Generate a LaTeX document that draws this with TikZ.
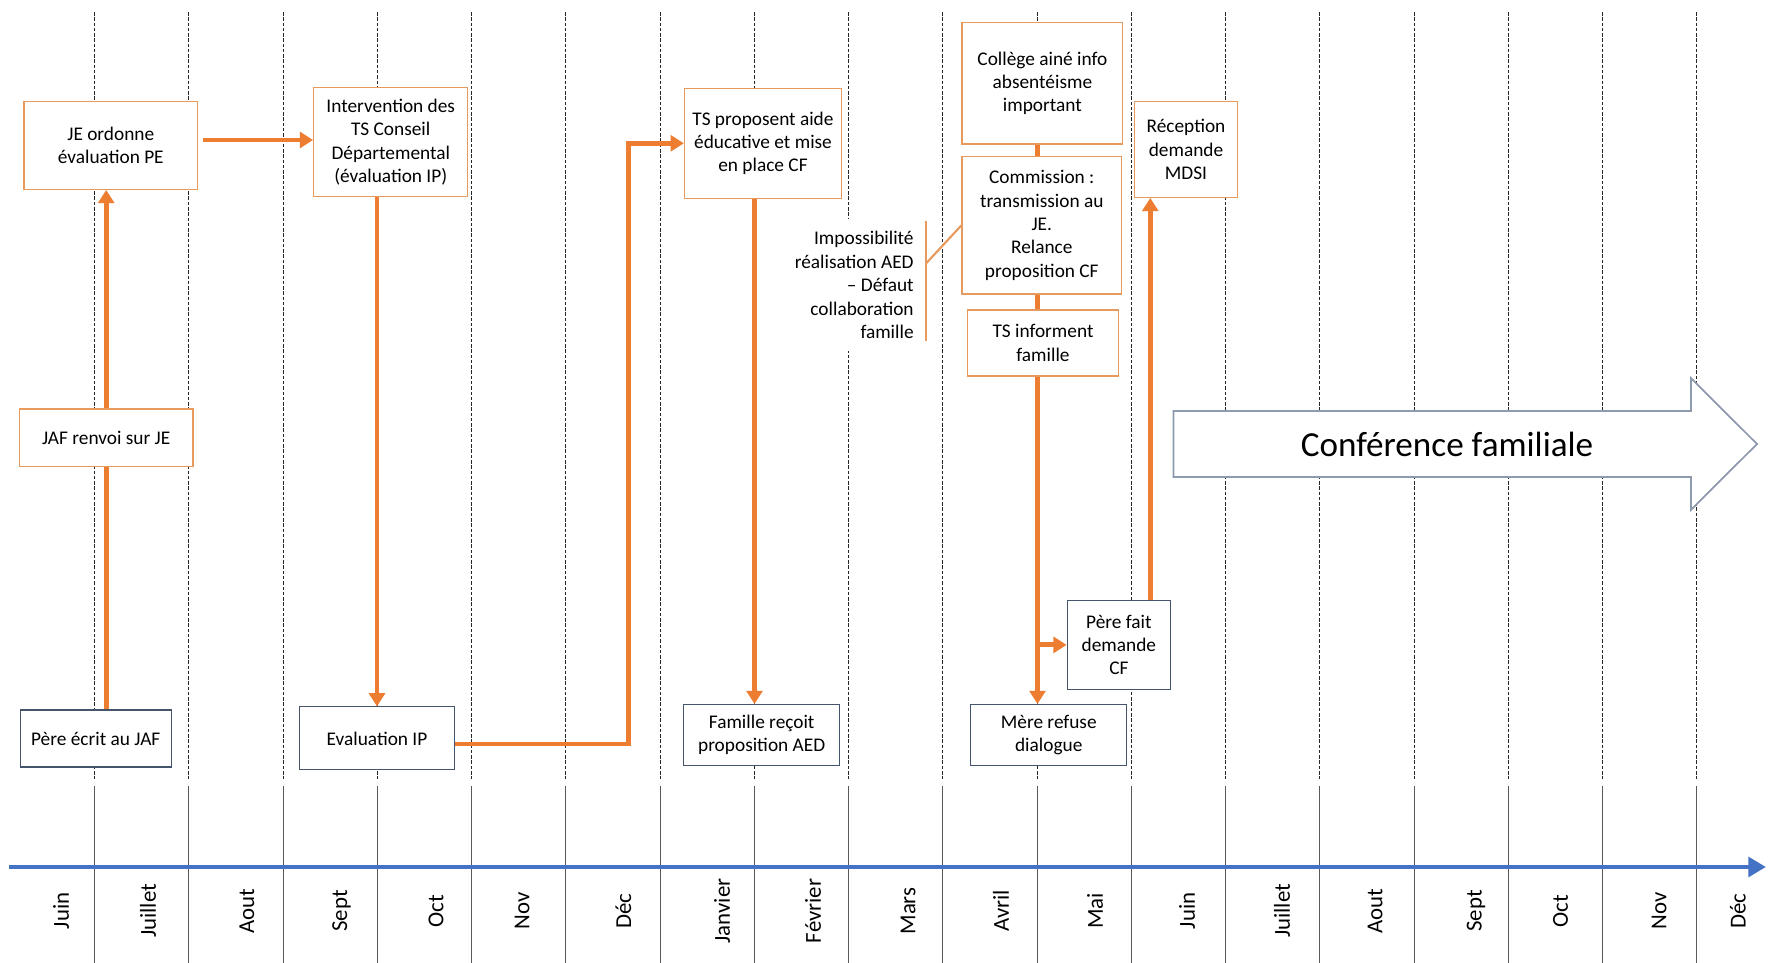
\documentclass[tikz,border=0pt]{standalone}
\usepackage{fontspec}
\setmainfont{Carlito}
\usepackage{tikz}
\usepackage{xcolor}
\usetikzlibrary{calc, arrows.meta}

\definecolor{orgline}{HTML}{ED7D31}
\definecolor{orgbox}{HTML}{E69A5E}
\definecolor{slate}{HTML}{44546A}
\definecolor{axisblue}{HTML}{4472C4}
\definecolor{cfgrey}{HTML}{8E9BAE}

\begin{document}
\begin{tikzpicture}[x=0.02cm, y=-0.02cm,
    obox/.style={draw=orgbox, line width=0.8pt, fill=white, align=center, inner sep=2pt, font=\fontsize{11}{13.3}\selectfont},
    bbox/.style={draw=slate, line width=0.6pt, fill=white, align=center, inner sep=2pt, font=\fontsize{11}{13.3}\selectfont},
    arr/.style={draw=orgline, line width=2.8pt, -{Triangle[length=7.5pt,width=9pt]}},
    lnk/.style={draw=orgline, line width=2.8pt},
    brk/.style={draw=orgbox, line width=1.2pt},
    grid/.style={line width=0.55pt, dash pattern=on 2pt off 1pt, black!85},
    tick/.style={line width=0.6pt, black!65},
    month/.style={rotate=90, font=\fontsize{13}{15}\selectfont}]
      \useasboundingbox (0,0) rectangle (1769,963);
      \fill[white] (0,0) rectangle (1769,963);
      % month grid
      \draw[grid] (94.5,12)--(94.5,779);     \draw[tick] (94.5,786)--(94.5,963);
      \draw[grid] (188.5,12)--(188.5,779);   \draw[tick] (188.5,786)--(188.5,963);
      \draw[grid] (283.5,12)--(283.5,779);   \draw[tick] (283.5,786)--(283.5,963);
      \draw[grid] (377.5,12)--(377.5,779);   \draw[tick] (377.5,786)--(377.5,963);
      \draw[grid] (471.5,12)--(471.5,779);   \draw[tick] (471.5,786)--(471.5,963);
      \draw[grid] (565.5,12)--(565.5,779);   \draw[tick] (565.5,786)--(565.5,963);
      \draw[grid] (660.5,12)--(660.5,779);   \draw[tick] (660.5,786)--(660.5,963);
      \draw[grid] (754.5,12)--(754.5,779);   \draw[tick] (754.5,786)--(754.5,963);
      \draw[grid] (848.5,12)--(848.5,779);   \draw[tick] (848.5,786)--(848.5,963);
      \draw[grid] (942.5,12)--(942.5,779);   \draw[tick] (942.5,786)--(942.5,963);
      \draw[grid] (1037.5,12)--(1037.5,779); \draw[tick] (1037.5,786)--(1037.5,963);
      \draw[grid] (1131.5,12)--(1131.5,779); \draw[tick] (1131.5,786)--(1131.5,963);
      \draw[grid] (1225.5,12)--(1225.5,779); \draw[tick] (1225.5,786)--(1225.5,963);
      \draw[grid] (1319.5,12)--(1319.5,779); \draw[tick] (1319.5,786)--(1319.5,963);
      \draw[grid] (1414.5,12)--(1414.5,779); \draw[tick] (1414.5,786)--(1414.5,963);
      \draw[grid] (1508.5,12)--(1508.5,779); \draw[tick] (1508.5,786)--(1508.5,963);
      \draw[grid] (1602.5,12)--(1602.5,779); \draw[tick] (1602.5,786)--(1602.5,963);
      \draw[grid] (1696.5,12)--(1696.5,779); \draw[tick] (1696.5,786)--(1696.5,963);
      \coordinate (g8) at (754.5,0);
      \coordinate (g11) at (1037.5,0);

      % time axis
      \coordinate (t0) at (9,867);
      \coordinate (t1) at (1766,867);
      \draw[axisblue, line width=2.6pt, -{Triangle[length=10pt,width=11pt]}] (t0)--(t1);
      \node[month] (m1) at (61,911) {Juin};
      \node[month] (m2) at (148,911) {Juillet};
      \node[month] (m3) at (247,911) {Aout};
      \node[month] (m4) at (341.5,911) {Sept};
      \node[month] (m5) at (436,911) {Oct};
      \node[month] (m6) at (522,911) {Nov};
      \node[month] (m7) at (623.5,911) {Déc};
      \node[month] (m8) at (722,911) {Janvier};
      \node[month] (m9) at (813,911) {Février};
      \node[month] (m10) at (908,911) {Mars};
      \node[month] (m11) at (1001,911) {Avril};
      \node[month] (m12) at (1095,911) {Mai};
      \node[month] (m13) at (1187,911) {Juin};
      \node[month] (m14) at (1282,911) {Juillet};
      \node[month] (m15) at (1375,911) {Aout};
      \node[month] (m16) at (1476,911) {Sept};
      \node[month] (m17) at (1560.6,911) {Oct};
      \node[month] (m18) at (1659,911) {Nov};
      \node[month] (m19) at (1738,911) {Déc};

      % conference block arrow
      \draw[draw=cfgrey, line width=1pt, fill=white] (1173.4,411)--(1690.9,411)--(1690.9,378)--(1757,444)
        --(1690.9,510)--(1690.9,477)--(1173.4,477)--cycle;
      \node[font=\fontsize{20}{24}\selectfont] (conf) at (1447,444) {Conférence familiale};

      % events
      \node[obox, minimum width=3.48cm, minimum height=1.75cm] (je) at (110.8,145.5) {JE ordonne\\évaluation PE};
      \node[obox, minimum width=3.08cm, minimum height=2.19cm] (inter) at (390.75,142) {Intervention des\\TS Conseil\\Départemental\\(évaluation IP)};
      \node[obox, minimum width=3.14cm, minimum height=2.2cm] (tsprop) at (763,143.3) {TS proposent aide\\éducative et mise\\en place CF};
      \node[obox, minimum width=3.21cm, minimum height=2.43cm] (college) at (1042.4,83.3) {Collège ainé info\\absentéisme\\important};
      \node[obox, minimum width=3.19cm, minimum height=2.75cm] (commission) at (1041.8,225.4) {Commission :\\transmission au\\JE.\\Relance\\proposition CF};
      \node[obox, minimum width=3.03cm, minimum height=1.32cm] (tsinfo) at (1043,343) {TS informent\\famille};
      \node[obox, minimum width=2.07cm, minimum height=1.91cm] (reception) at (1186,149.5) {Réception\\demande\\MDSI};
      \node[obox, minimum width=3.48cm, minimum height=1.15cm] (jaf) at (106.2,437.7) {JAF renvoi sur JE};
      \node[bbox, minimum width=3.02cm, minimum height=1.14cm] (pere) at (95.7,738.5) {Père écrit au JAF};
      \node[bbox, minimum width=3.11cm, minimum height=1.26cm] (eval) at (377,738.4) {Evaluation IP};
      \node[bbox, minimum width=3.12cm, minimum height=1.22cm] (famille) at (761.7,735) {Famille reçoit\\proposition AED};
      \node[bbox, minimum width=3.12cm, minimum height=1.22cm] (mere) at (1048.75,735) {Mère refuse\\dialogue};
      \node[bbox, minimum width=2.07cm, minimum height=1.78cm] (perefait) at (1118.9,644.9) {Père fait\\demande\\CF};
      \node[fill=white, align=right, inner sep=0.24cm, anchor=east, font=\fontsize{11}{13.3}\selectfont] (note) at (926,285)
        {Impossibilité\\réalisation AED\\– Défaut\\collaboration\\famille};

      % bracket of the note
      \draw[brk] ([yshift=1.29cm]note.east)--([yshift=-1.13cm]note.east);
      \draw[brk] ([yshift=0.43cm]note.east)--(commission.west);

      % flow
      \draw[lnk] (pere.north -| jaf.south)--(jaf.south);
      \draw[arr] (jaf.north)--(je.south -| jaf.north);
      \draw[arr, shorten <=0.1cm] ($(je.east)+(0,-5.5)$)--($(je.east -| inter.west)+(0,-5.5)$);
      \draw[arr] (inter.south -| eval.north)--(eval.north);
      \draw[arr] ($(eval.east)+(0,5.6)$)--++(173,0) |- (tsprop.west);
      \draw[arr] (tsprop.south -| g8)--(famille.north -| g8);
      \draw[lnk] (college.south -| g11)--(commission.north -| g11);
      \draw[lnk] (commission.south -| g11)--(tsinfo.north -| g11);
      \draw[arr] (tsinfo.south -| g11)--(mere.north -| g11);
      \draw[arr] (perefait.west -| g11)--(perefait.west);
      \draw[arr] ($(perefait.north west)!.8!(perefait.north east)$) coordinate (lane)--(lane |- reception.south);
    \end{tikzpicture}
\end{document}
